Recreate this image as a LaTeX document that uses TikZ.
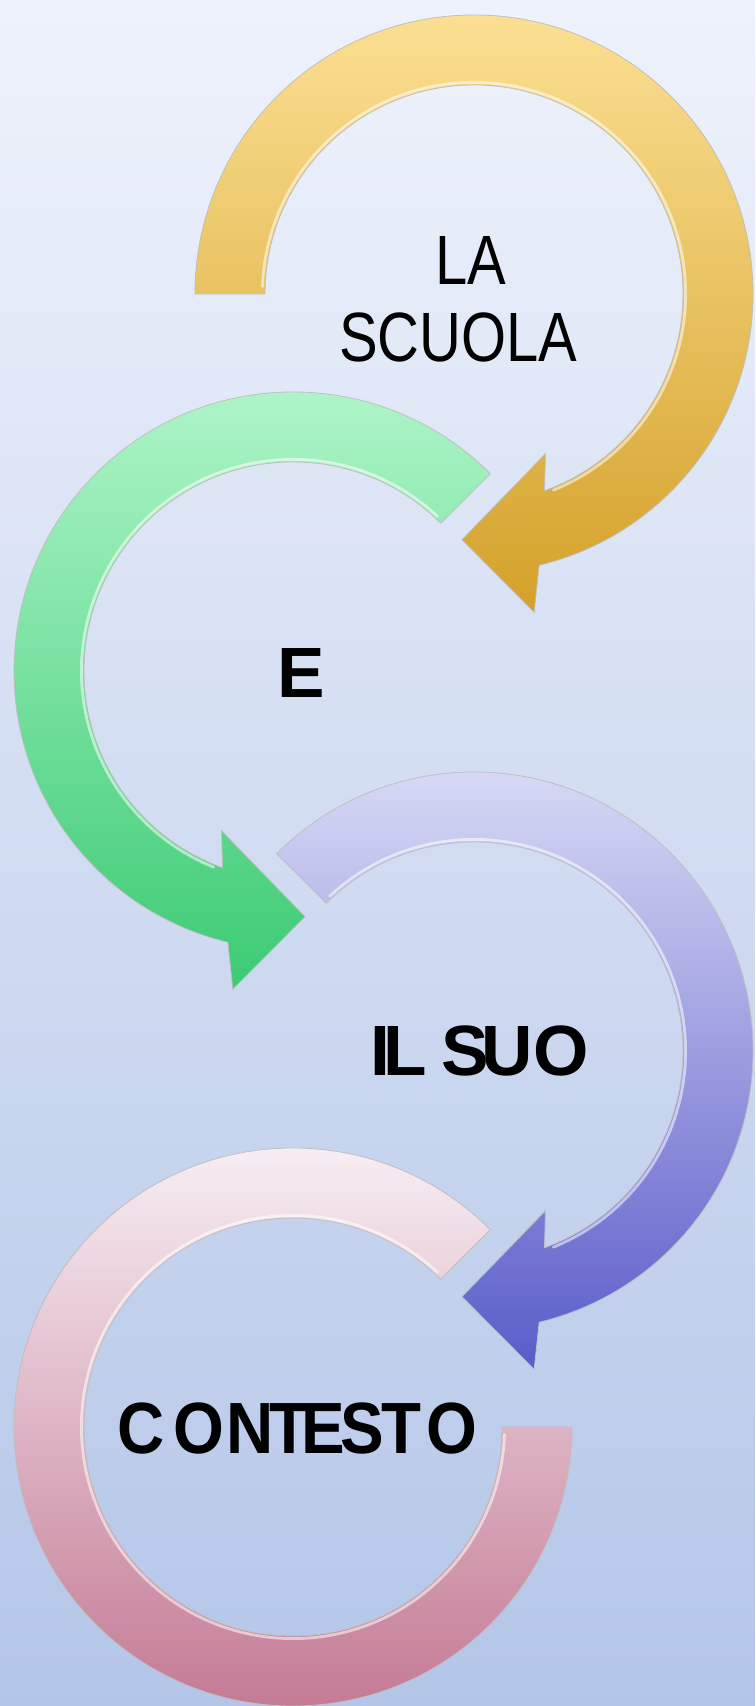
\documentclass[tikz,border=0pt]{standalone}
\usepackage{fontspec}
\setmainfont{Liberation Sans}
\usepackage{graphicx}
\definecolor{bgtop}{HTML}{EEF2FB}
\definecolor{bgbot}{HTML}{B4C6E8}
\definecolor{yeltop}{HTML}{FBDF92}
\definecolor{yelbot}{HTML}{D4A12A}
\definecolor{grntop}{HTML}{B2F6CB}
\definecolor{grnbot}{HTML}{3CCB74}
\definecolor{blutop}{HTML}{DCDEF7}
\definecolor{blumid}{HTML}{BDBFED}
\definecolor{blubot}{HTML}{5A5BC9}
\definecolor{pnktop}{HTML}{F9F3F7}
\definecolor{pnkbot}{HTML}{C27590}
\tikzset{
  ringedge/.style={draw=black!25, line width=0.4pt},
  hilite/.style={draw=white, line width=1.4pt, opacity=0.55, line cap=round},
  lbl/.style={anchor=base west, inner sep=0pt, outer sep=0pt, text=black},
}
\begin{document}
\begin{tikzpicture}[x=0.5pt,y=0.5pt]
\fill[top color=bgtop, bottom color=bgbot] (0,0) rectangle (755,1706);
\useasboundingbox (0,0) rectangle (755,1706);
\coordinate (cy) at (474,1412);
\coordinate (cg) at (293,1035);
\coordinate (cb) at (474,655);
\coordinate (cp) at (293,279);
% yellow
\begin{scope}[shift={(cy)}]
\path[ringedge, top color=yeltop, bottom color=yelbot]
 (180:139.5pt) arc[start angle=180, end angle=-76.5, radius=139.5pt]
 -- (-79.3:162pt) -- (-92.8:123pt) -- (-65.9:87.5pt) -- (-70.3:104.5pt)
 arc[start angle=-70.3, end angle=180, radius=104.5pt] -- cycle;
\draw[hilite] (178:105.8pt) arc[start angle=178, end angle=-68, radius=105.8pt];
\end{scope}
% green
\begin{scope}[shift={(cg)}]
\path[ringedge, top color=grntop, bottom color=grnbot]
 (45:139.5pt) arc[start angle=45, end angle=256.5, radius=139.5pt]
 -- (259.3:162pt) -- (272.8:123pt) -- (245.9:87.5pt) -- (250.3:104.5pt)
 arc[start angle=250.3, end angle=45, radius=104.5pt] -- cycle;
\draw[hilite] (47:105.8pt) arc[start angle=47, end angle=248, radius=105.8pt];
\end{scope}
% blue
\begin{scope}[shift={(cb)}]
\path[ringedge, top color=blutop, middle color=blumid, bottom color=blubot]
 (135:139.5pt) arc[start angle=135, end angle=-76.5, radius=139.5pt]
 -- (-79.3:162pt) -- (-92.8:123pt) -- (-65.9:87.5pt) -- (-70.3:104.5pt)
 arc[start angle=-70.3, end angle=135, radius=104.5pt] -- cycle;
\draw[hilite] (133:105.8pt) arc[start angle=133, end angle=-68, radius=105.8pt];
\end{scope}
% pink
\begin{scope}[shift={(cp)}]
\path[ringedge, top color=pnktop, bottom color=pnkbot]
 (45:139.5pt) arc[start angle=45, end angle=360, radius=139.5pt]
 -- (0:104.5pt) arc[start angle=360, end angle=45, radius=104.5pt] -- cycle;
\draw[hilite] (47:105.8pt) arc[start angle=47, end angle=358, radius=105.8pt];
\end{scope}
% labels
\node[lbl] (la) at (435,1421) {\fontsize{34.9}{40}\selectfont\scalebox{0.83}[1]{LA}};
\node[lbl] (scuola) at (339,1344) {\fontsize{34.9}{40}\selectfont\scalebox{0.83}[1]{SCUOLA}};
\node[lbl] (e) at (277,1008) {\fontsize{35.6}{40}\selectfont\bfseries E};
\node[lbl] (ilsuo) at (370,630) {\fontsize{35.6}{40}\selectfont\bfseries I\kern-3pt L\kern7pt S\kern-3.5pt UO};
\node[lbl] (contesto) at (117,252) {\fontsize{36.3}{40}\selectfont\bfseries\scalebox{0.9}[1]{C\kern5pt O\kern1.5pt N\kern-2.5pt T\kern-4.2pt E\kern-2.5pt S\kern-1.8pt T\kern3pt O}};
\end{tikzpicture}
\end{document}
